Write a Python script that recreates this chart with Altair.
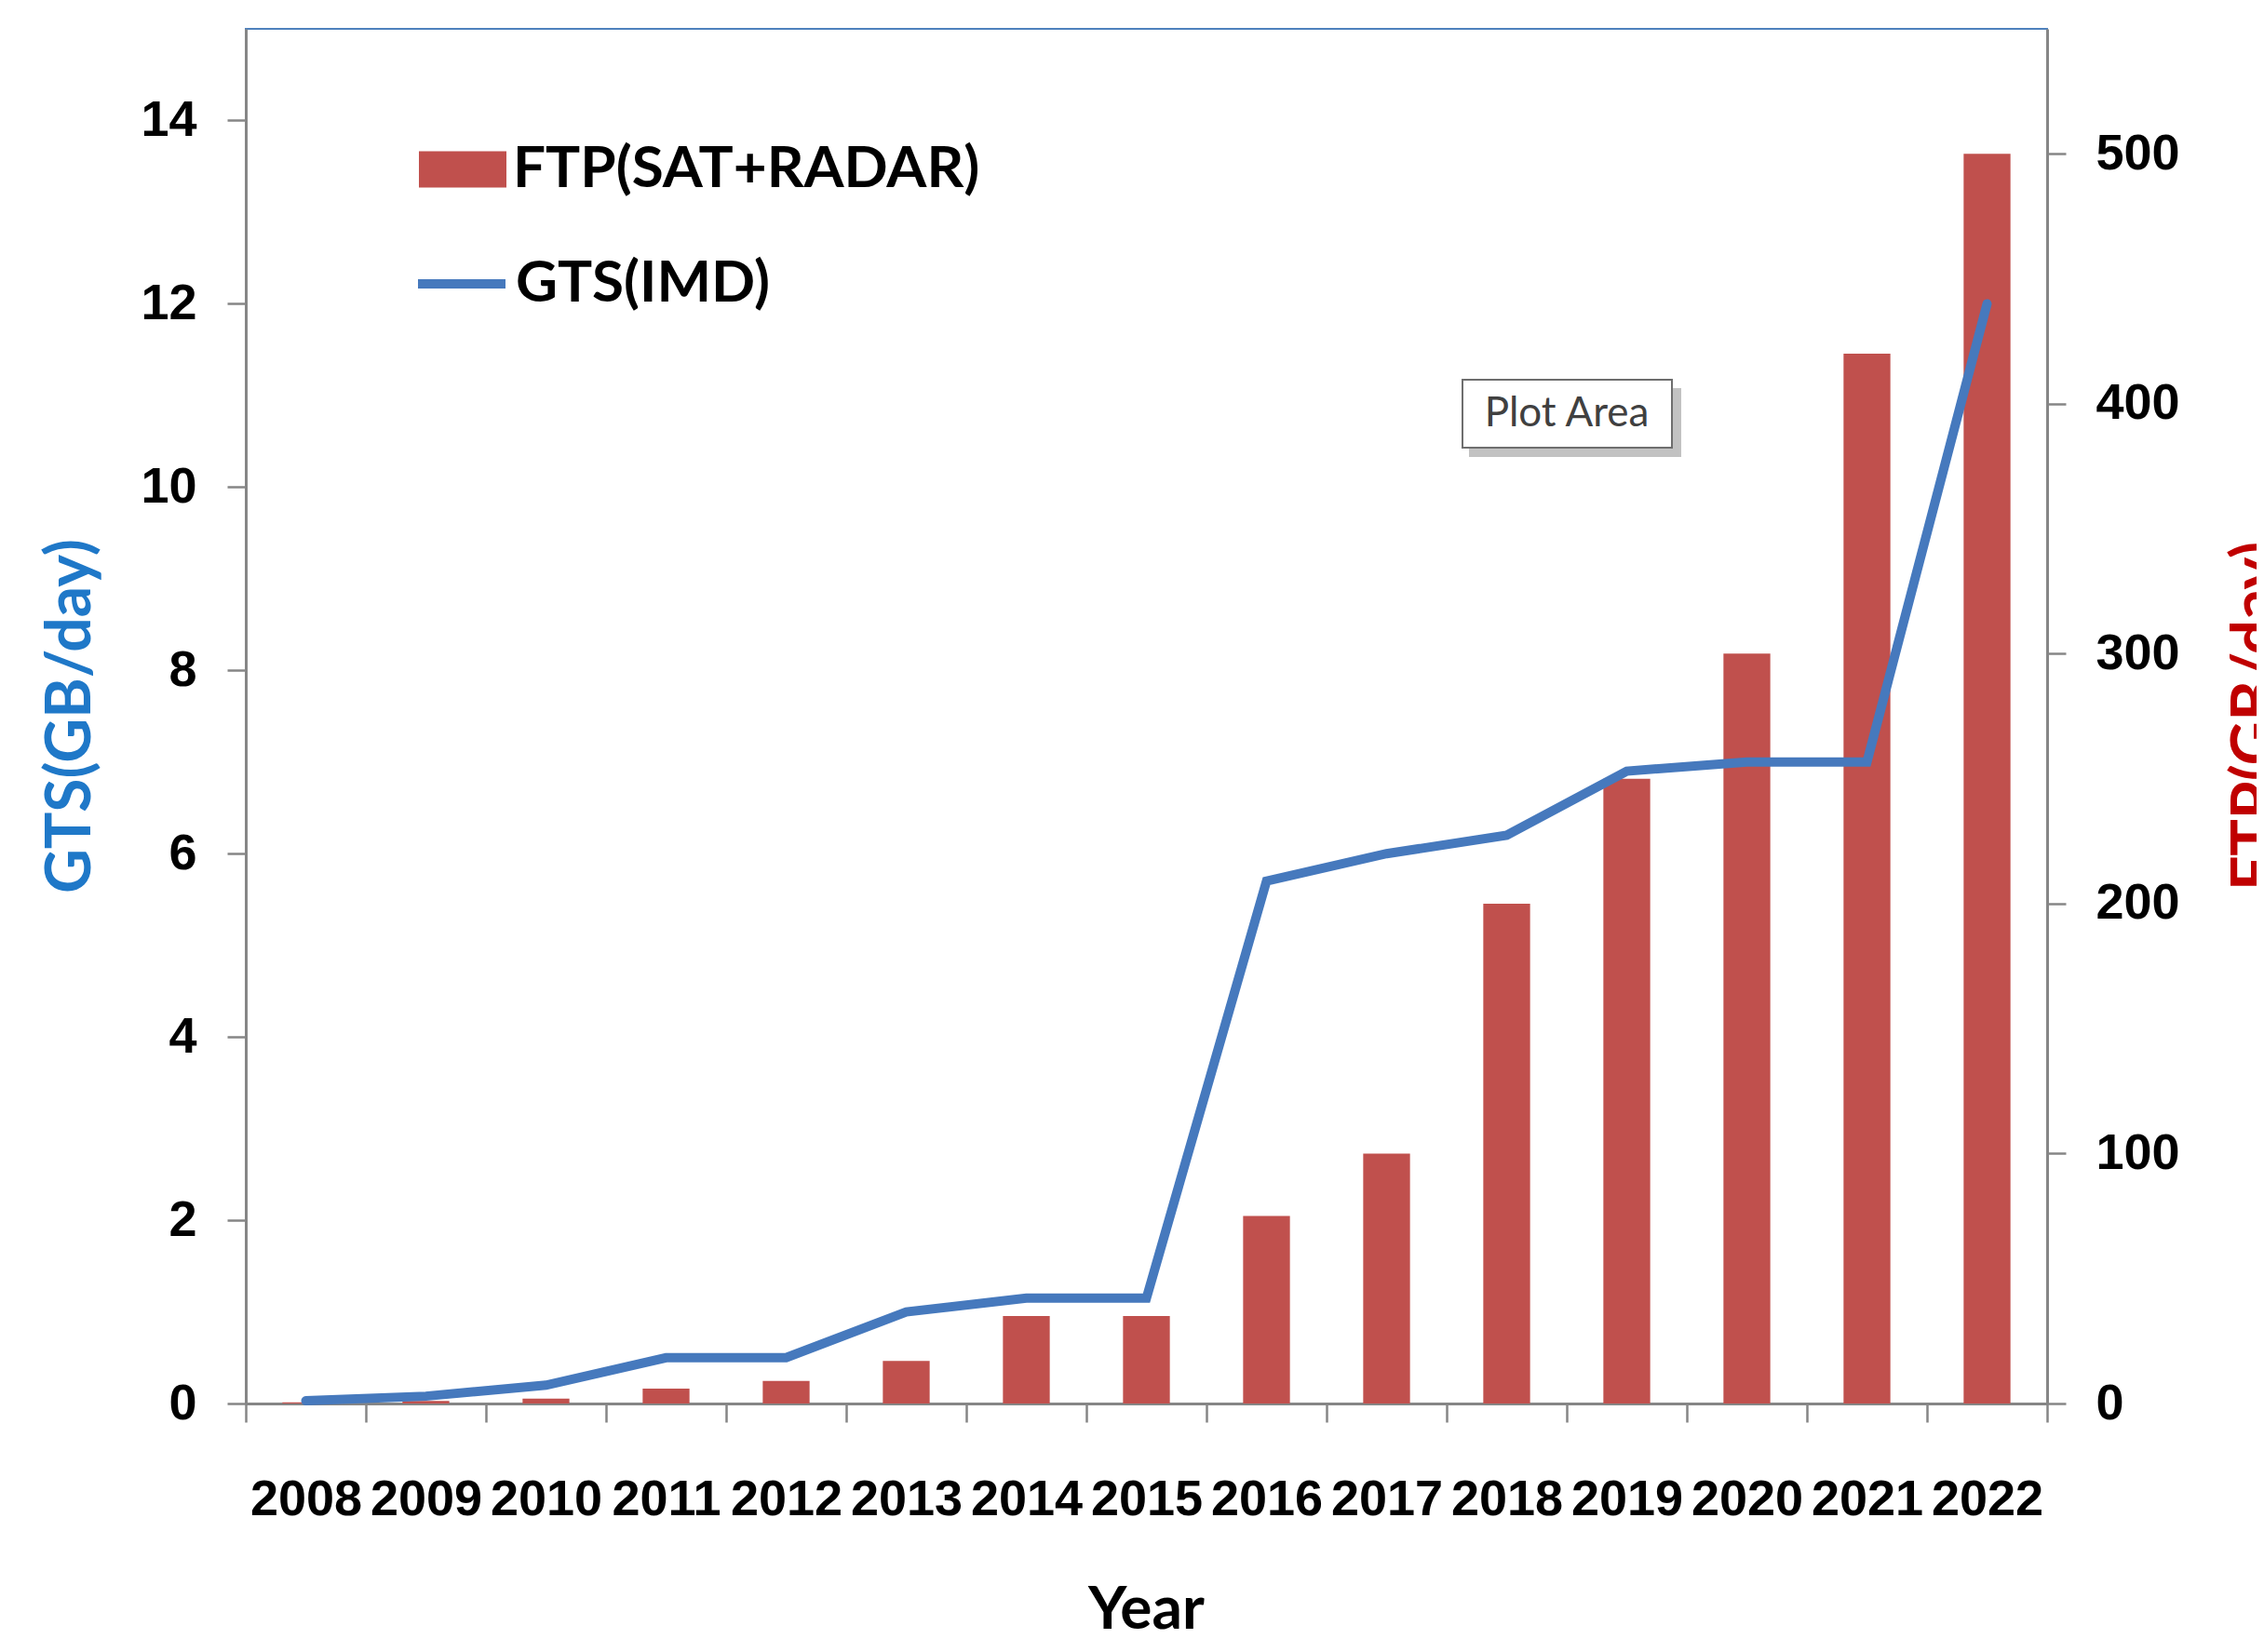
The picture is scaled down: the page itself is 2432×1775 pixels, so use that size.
import altair as alt
import pandas as pd

years = ["2008", "2009", "2010", "2011", "2012", "2013", "2014", "2015",
         "2016", "2017", "2018", "2019", "2020", "2021", "2022"]
ftp_gb_day = [0.5, 1, 2, 6, 9, 17, 35, 35, 75, 100, 200, 250, 300, 420, 500]
gts_gb_day = [0.03, 0.08, 0.2, 0.5, 0.5, 1.0, 1.15, 1.15, 5.7, 6.0, 6.2, 6.9, 7.0, 7.0, 12.0]
left_ticks = [0, 2, 4, 6, 8, 10, 12, 14]
right_ticks = [0, 100, 200, 300, 400, 500]

df = pd.DataFrame({"Year": years, "FTP": ftp_gb_day, "GTS": gts_gb_day})

AX_GRAY = "#868686"
BAR_RED = "#C0504D"
LINE_BLUE = "#4679BD"
TICK_FONT = "Liberation Sans"
TITLE_FONT = "Lato"

x_enc = alt.X(
    "Year:O",
    sort=years,
    scale=alt.Scale(paddingInner=0, paddingOuter=0),
    axis=alt.Axis(
        title="Year",
        labelAngle=0,
        tickBand="extent",
        tickSize=20,
        tickWidth=2.5,
        tickColor=AX_GRAY,
        domainColor=AX_GRAY,
        domainWidth=3,
        labelFont=TICK_FONT,
        labelFontSize=54,
        labelFontWeight="bold",
        labelColor="black",
        labelPadding=56,
        labelOverlap=False,
        titleFont=TITLE_FONT,
        titleFontSize=64,
        titleFontWeight="bold",
        titleColor="black",
        titleX=967,
        titleY=222,
        titleBaseline="middle",
        titleAlign="center",
    ),
)

bars = (
    alt.Chart(df)
    .transform_calculate(s1="'FTP(SAT+RADAR)'")
    .mark_bar(width=alt.RelativeBandSize(0.39))
    .encode(
        x=x_enc,
        y=alt.Y(
            "FTP:Q",
            scale=alt.Scale(domain=[0, 550], nice=False, zero=True),
            axis=alt.Axis(
                orient="right",
                values=right_ticks,
                grid=False,
                title="FTP(GB/day)",
                tickSize=20,
                tickWidth=2.5,
                tickColor=AX_GRAY,
                domainColor=AX_GRAY,
                domainWidth=3,
                labelFont=TICK_FONT,
                labelFontSize=54,
                labelFontWeight="bold",
                labelColor="black",
                labelPadding=32,
                titleFont=TITLE_FONT,
                titleFontSize=66,
                titleFontWeight="bold",
                titleColor="#C00000",
                titleAngle=270,
                titleX=225,
                titleY=738,
                titleBaseline="middle",
                titleAlign="center",
            ),
        ),
        fill=alt.Fill(
            "s1:N",
            scale=alt.Scale(domain=["FTP(SAT+RADAR)"], range=[BAR_RED]),
            legend=alt.Legend(
                title=None,
                orient="none",
                legendX=186,
                legendY=104,
                padding=0,
                symbolType="M-1,-0.415H1V0.415H-1Z",
                symbolSize=8836,
                symbolStrokeWidth=0,
                symbolOpacity=1,
                labelFont=TITLE_FONT,
                labelFontSize=62,
                labelFontWeight="bold",
                labelColor="black",
                labelOffset=7,
                labelLimit=1200,
            ),
        ),
    )
)

line = (
    alt.Chart(df)
    .transform_calculate(s2="'GTS(IMD)'")
    .mark_line(strokeWidth=10, strokeCap="round", strokeJoin="miter")
    .encode(
        x=alt.X("Year:O", sort=years),
        y=alt.Y(
            "GTS:Q",
            scale=alt.Scale(domain=[0, 15], nice=False, zero=True),
            axis=alt.Axis(
                orient="left",
                values=left_ticks,
                grid=False,
                title="GTS(GB/day)",
                tickSize=20,
                tickWidth=2.5,
                tickColor=AX_GRAY,
                domainColor=AX_GRAY,
                domainWidth=3,
                labelFont=TICK_FONT,
                labelFontSize=54,
                labelFontWeight="bold",
                labelColor="black",
                labelPadding=33,
                titleFont=TITLE_FONT,
                titleFontSize=66,
                titleFontWeight="bold",
                titleColor="#1F78C8",
                titleAngle=270,
                titleX=-188,
                titleY=738,
                titleBaseline="middle",
                titleAlign="center",
            ),
        ),
        stroke=alt.Stroke(
            "s2:N",
            scale=alt.Scale(domain=["GTS(IMD)"], range=[LINE_BLUE]),
            legend=alt.Legend(
                title=None,
                orient="none",
                legendX=180,
                legendY=222,
                padding=0,
                symbolType="stroke",
                symbolSize=8836,
                symbolStrokeWidth=10,
                labelFont=TITLE_FONT,
                labelFontSize=62,
                labelFontWeight="bold",
                labelColor="black",
                labelOffset=6,
                labelLimit=1200,
            ),
        ),
    )
)

one = alt.Data(values=[{"k": 1}])

shadow = alt.Chart(one).mark_rect(color="#9A9A9A", opacity=0.6).encode(
    x=alt.value(1314), x2=alt.value(1542), y=alt.value(386), y2=alt.value(460)
)
box = alt.Chart(one).mark_rect(fill="white", stroke="#6E6E6E", strokeWidth=2).encode(
    x=alt.value(1307), x2=alt.value(1532), y=alt.value(377), y2=alt.value(450)
)
box_text = alt.Chart(one).mark_text(
    text="Plot Area", font=TITLE_FONT, fontSize=44, color="#404040",
    align="center", baseline="middle"
).encode(x=alt.value(1419), y=alt.value(414))

chart = (
    alt.layer(bars, line, shadow, box, box_text)
    .resolve_scale(y="independent")
    .properties(
        width=1935,
        height=1477,
        autosize="none",
        padding={"left": 256, "top": 23, "right": 225, "bottom": 259},
        background="white",
    )
    .configure_view(stroke="#4F81BD", strokeWidth=2)
)

chart.save("out.html", embed_options={"renderer": "svg", "actions": False})
